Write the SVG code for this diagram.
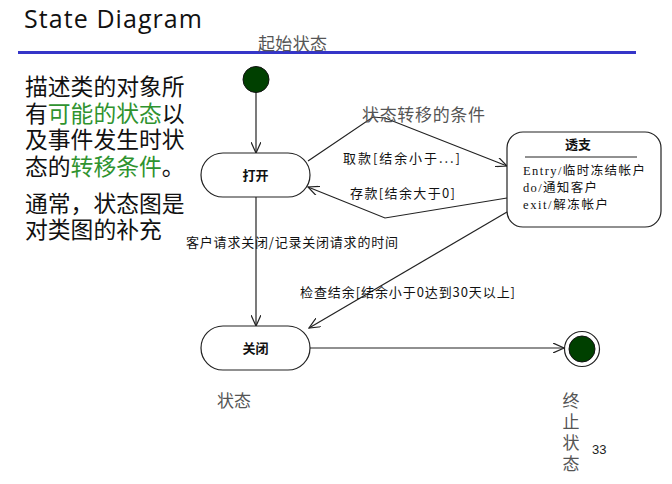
<svg xmlns="http://www.w3.org/2000/svg" width="672" height="484" viewBox="0 0 672 484">
<style>
.cjk{font-family:"Noto Sans CJK SC","Noto Sans",sans-serif}
.big{font-size:22.8px;fill:#111}
.g{fill:#2f932f}
.note{font-size:17px;fill:#555}
.lbl{font-size:13px;fill:#111}
.st{fill:#fff;stroke:#222;stroke-width:1.2}
.ln{fill:none;stroke:#222;stroke-width:1.2}
.mono{font-family:"Liberation Serif","Noto Sans CJK SC",serif;font-size:12.5px;fill:#111}
</style>
<defs>
<marker id="v" viewBox="0 0 12 10" refX="11" refY="5" markerWidth="12" markerHeight="10" markerUnits="userSpaceOnUse" orient="auto">
<path d="M0,0 L11,5 L0,10" fill="none" stroke="#222" stroke-width="1.2"/>
</marker>
</defs>
<rect width="672" height="484" fill="#fff"/>
<text x="24" y="28" font-family="Open Sans, Liberation Sans, sans-serif" font-size="25" fill="#111" textLength="178">State Diagram</text>
<line x1="18" y1="52.5" x2="636" y2="52.5" stroke="#3535c8" stroke-width="3"/>
<text x="258" y="50" class="cjk note" textLength="69">起始状态</text>
<text class="cjk big"><tspan x="25" y="95">描述类的对象所</tspan><tspan x="25" y="122">有<tspan class="g">可能的状态</tspan>以</tspan><tspan x="25" y="148">及事件发生时状</tspan><tspan x="25" y="175">态的<tspan class="g">转移条件</tspan>。</tspan></text>
<text class="cjk big"><tspan x="25" y="212">通常，状态图是</tspan><tspan x="25" y="238">对类图的补充</tspan></text>
<g id="connectors">
<line class="ln" x1="256" y1="92" x2="256" y2="153" marker-end="url(#v)"/>
<polyline class="ln" points="308,161 373,117 385,118 507,166" marker-end="url(#v)"/>
<polyline class="ln" points="507,198 385,218 308,187" marker-end="url(#v)"/>
<line class="ln" x1="256" y1="197" x2="256" y2="326" marker-end="url(#v)"/>
<line class="ln" x1="507" y1="212" x2="309" y2="328" marker-end="url(#v)"/>
<line class="ln" x1="310" y1="348" x2="564" y2="348" marker-end="url(#v)"/>
</g>
<g id="start"><circle cx="256" cy="79.5" r="13" fill="#004000" stroke="#111" stroke-width="1"/></g>
<g id="open">
<rect class="st" x="201" y="153" width="109" height="44" rx="22"/>
<text x="255.5" y="180" class="cjk lbl" text-anchor="middle" font-weight="bold">打开</text>
</g>
<g id="overdraft">
<rect class="st" x="507" y="132" width="154" height="95" rx="16"/>
<text x="578" y="149" class="cjk lbl" text-anchor="middle" font-weight="bold">透支</text>
<line x1="525" y1="157" x2="637" y2="157" stroke="#222" stroke-width="1"/>
<text x="523" y="175" class="mono" textLength="122">Entry/临时冻结帐户</text>
<text x="523" y="192" class="mono" textLength="74">do/通知客户</text>
<text x="523" y="209" class="mono" textLength="85">exit/解冻帐户</text>
</g>
<g id="closed">
<rect class="st" x="201" y="326" width="109" height="44" rx="22"/>
<text x="255.5" y="353" class="cjk lbl" text-anchor="middle" font-weight="bold">关闭</text>
</g>
<g id="final">
<circle cx="582" cy="349" r="17.5" fill="#fff" stroke="#222" stroke-width="1.2"/>
<circle cx="582" cy="349" r="13" fill="#004000" stroke="#111" stroke-width="1"/>
</g>
<text x="362" y="121" class="cjk note" textLength="123">状态转移的条件</text>
<text x="343" y="163" class="cjk lbl" textLength="117">取款[结余小于...]</text>
<text x="350" y="198" class="cjk lbl" textLength="105">存款[结余大于0]</text>
<text x="186" y="247" class="cjk lbl" textLength="212">客户请求关闭/记录关闭请求的时间</text>
<text x="300" y="297" class="cjk lbl" textLength="215">检查结余[结余小于0达到30天以上]</text>
<text x="217" y="407" class="cjk note" textLength="34">状态</text>
<text x="571" y="392" class="cjk note" writing-mode="vertical-rl" letter-spacing="4">终止状态</text>
<text x="592" y="454" font-family="Liberation Sans, sans-serif" font-size="13" fill="#222">33</text>
</svg>
